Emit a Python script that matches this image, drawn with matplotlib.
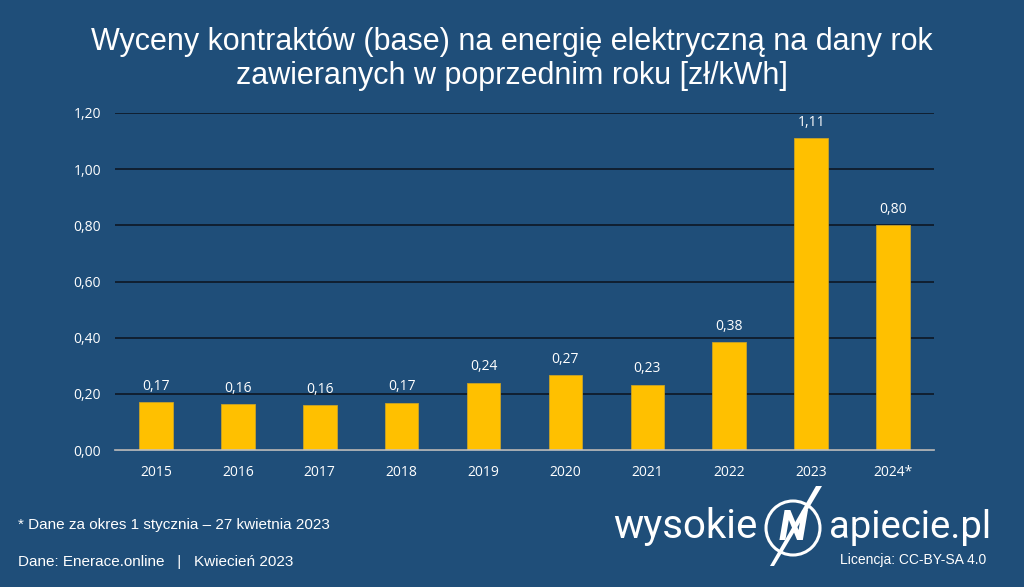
import matplotlib.pyplot as plt
from matplotlib.patches import Circle, Polygon

# Data
years = ["2015", "2016", "2017", "2018", "2019", "2020", "2021", "2022", "2023", "2024*"]
prices = [0.17, 0.164, 0.159, 0.168, 0.24, 0.266, 0.232, 0.383, 1.11, 0.80]
labels = ["0,17", "0,16", "0,16", "0,17", "0,24", "0,27", "0,23", "0,38", "1,11", "0,80"]
yticks = [0.0, 0.2, 0.4, 0.6, 0.8, 1.0, 1.2]

bg = "#1f4e79"
bar_color = "#ffc000"

fig = plt.figure(figsize=(10.24, 5.87), dpi=100, facecolor=bg)
ax = fig.add_axes([115 / 1024, 1 - 450 / 587, (934 - 115) / 1024, (450 - 113) / 587])
ax.set_facecolor(bg)

x = range(len(years))
ax.bar(x, prices, width=0.41, color=bar_color, edgecolor="#c9a227", linewidth=0.6, zorder=3)
for i, (v, lab) in enumerate(zip(prices, labels)):
    ax.text(i, v + 0.03, lab, ha="center", va="bottom", color="white",
            fontsize=10, family="Open Sans", zorder=4)

ax.set_xlim(-0.5, len(years) - 0.5)
ax.set_ylim(0, 1.2)
ax.set_yticks(yticks)
ax.set_yticklabels([f"{t:.2f}".replace(".", ",") for t in yticks])
ax.set_xticks(list(x))
ax.set_xticklabels(years)
ax.tick_params(length=0, colors="white", labelsize=10, pad=11)
for lbl in ax.get_xticklabels() + ax.get_yticklabels():
    lbl.set_family("Open Sans")
ax.tick_params(axis="y", pad=10)
ax.grid(axis="y", color="#0f1c2b", linewidth=1.3, zorder=1)
for s in ["top", "right", "left"]:
    ax.spines[s].set_visible(False)
ax.spines["bottom"].set_color("#bfbfbf")
ax.spines["bottom"].set_linewidth(1.2)
ax.spines["bottom"].set_zorder(5)

fig.text(0.5, 1 - 42 / 587, "Wyceny kontraktów (base) na energię elektryczną na dany rok",
         ha="center", va="center", color="white", fontsize=22, family="Liberation Sans")
fig.text(0.5, 1 - 76 / 587, "zawieranych w poprzednim roku [zł/kWh]",
         ha="center", va="center", color="white", fontsize=22, family="Liberation Sans")

fig.text(18 / 1024, 1 - 525 / 587, "* Dane za okres 1 stycznia – 27 kwietnia 2023",
         ha="left", va="center", color="white", fontsize=11, family="Liberation Sans")
fig.text(18 / 1024, 1 - 562 / 587, "Dane: Enerace.online   |   Kwiecień 2023",
         ha="left", va="center", color="white", fontsize=11, family="Liberation Sans")

# logo
fig.text(613 / 1024, 1 - 527 / 587, "wysokie", ha="left", va="center", color="white",
         fontsize=29, family="Roboto")
fig.text(829 / 1024, 1 - 527 / 587, "apiecie.pl", ha="left", va="center", color="white",
         fontsize=27.5, family="Roboto")
lax = fig.add_axes([0, 0, 1, 1], facecolor="none")
lax.set_xlim(0, 1024)
lax.set_ylim(587, 0)
lax.axis("off")
lax.add_patch(Circle((793, 528), 27, fill=False, edgecolor="white", linewidth=2.2))
lax.add_patch(Polygon([(816, 486), (770, 566), (774, 566), (822, 486)], closed=True,
                      facecolor="white", edgecolor="none"))
lax.text(793, 529, "N", ha="center", va="center", color="white", fontsize=30,
         fontweight="bold", style="italic", family="Roboto")
fig.text(986 / 1024, 1 - 560 / 587, "Licencja: CC-BY-SA 4.0", ha="right", va="center",
         color="white", fontsize=10, family="Liberation Sans")

fig.savefig("out.png", dpi=100, facecolor=bg)
